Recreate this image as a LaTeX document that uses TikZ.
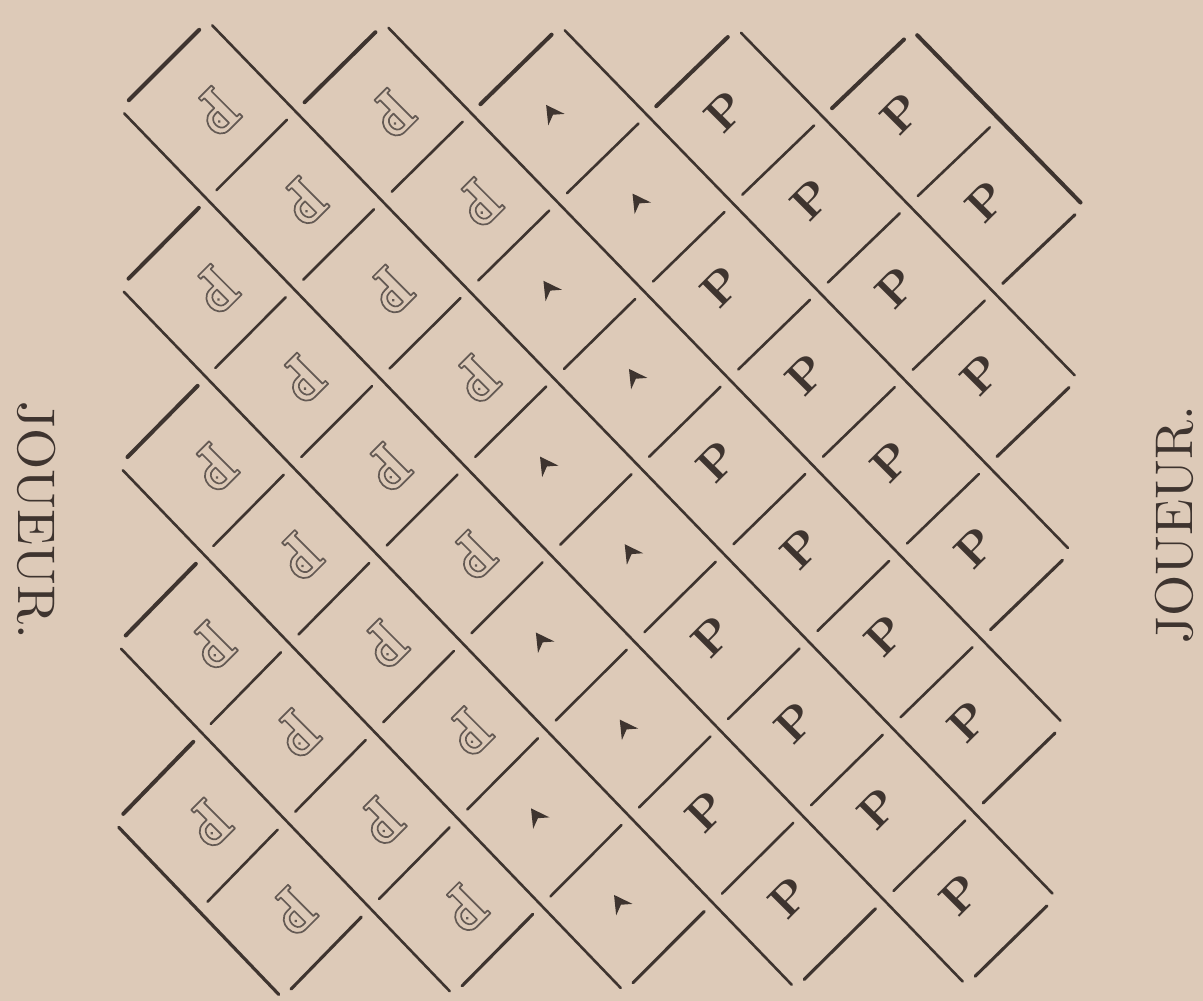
\documentclass[tikz,border=0pt]{standalone}
\usepackage{fontspec}
\newfontfamily\lmten{lmroman10-regular.otf}
\newfontfamily\lmtenbold{lmroman10-bold.otf}
\usetikzlibrary{calc}
\definecolor{paper}{RGB}{221,202,184}
\definecolor{ink}{RGB}{62,52,47}
\definecolor{inkl}{RGB}{100,90,84}
\newcommand\bpx[2]{120.06+87.88*(#1)+0.12*(#2)-0.24*(#1)*(#2)-0.09*((#2)+0.5)*((#2)+0.5)}
\newcommand\bpy[2]{109.07+0.97*(#1)+89.23*(#2)-0.26*(#1)*(#2)}
\newcommand\defpt[3]{\pgfmathsetmacro\tmpx{\bpx{#2}{#3}}\pgfmathsetmacro\tmpy{\bpy{#2}{#3}}\coordinate (#1) at (\tmpx,\tmpy);}
\tikzset{
  longline/.style={draw=ink, line cap=round},
  seg/.style={draw=ink, line cap=round},
  whitepiece/.style={draw=inkl, line width=1.7pt, line join=round},
  blackpiece/.style={text=ink, font=\lmtenbold\fontsize{46}{46}\selectfont, inner sep=0pt},
  arrowmark/.style={fill=ink},
  playerlabel/.style={text=ink, font=\lmten\fontsize{53}{53}\selectfont, inner sep=0pt},
}
\begin{document}
\begin{tikzpicture}[x=1pt,y=-1pt]
\fill[paper] (0,0) rectangle (1203,1001);
\useasboundingbox (0,0) rectangle (1203,1001);
% long diagonal lines between strips
\foreach \nm/\xa/\ya/\xb/\yb/\lw in {
  A/9/-1/11/1/4.0, B/7/-1/11/3/2.6, C/5/-1/11/5/2.6, D/3/-1/11/7/2.6, E/1/-1/11/9/2.6,
  F/0/0/10/10/2.6, G/0/2/8/10/2.6, H/0/4/6/10/2.6, I/0/6/4/10/2.6, J/0/8/2/10/3.2}{
  \defpt{L\nm1}{\xa}{\ya}
  \defpt{L\nm2}{\xb}{\yb}
  \draw[longline, line width=\lw pt, shorten <=6pt, shorten >=5pt] (L\nm1) -- (L\nm2);
}
% caps and cross segments
\foreach \dd in {-7,-5,...,9}{
  \pgfmathtruncatemacro\rmin{max(0,1-\dd)}
  \pgfmathtruncatemacro\rmax{min(9,10-\dd)}
  \pgfmathtruncatemacro\rs{\rmin-1}
  \foreach \rr in {\rs,...,\rmax}{
    \pgfmathsetmacro\xa{\rr+\dd+0.9}\pgfmathsetmacro\ya{\rr+0.1}
    \pgfmathsetmacro\xb{\rr+\dd+0.1}\pgfmathsetmacro\yb{\rr+0.9}
    \defpt{Sa}{\xa}{\ya}\defpt{Sb}{\xb}{\yb}
    \ifnum\rr=\rs \def\lw{4.0}\else\ifnum\rr=\rmax \def\lw{3.1}\else\def\lw{2.6}\fi\fi
    \draw[seg, line width=\lw pt] (Sa) -- (Sb);
  }
}
% pieces
\foreach \rr in {0,...,9}{
  \foreach \cc in {1,...,10}{
    \pgfmathtruncatemacro\parity{mod(\rr+\cc,2)}
    \ifnum\parity=1
      \defpt{cell\rr x\cc}{\cc}{\rr}
      \ifnum\cc<5
        \begin{scope}[shift={($(cell\rr x\cc)+(7,3)$)}, x=1pt, y=1pt, rotate=225]
          \draw[whitepiece] (-17,-22) -- (1,-22) -- (1,-18) -- (-3,-18) -- (-3,-4) -- (2,-4)
            .. controls (18,-4) and (18,22) .. (2,22) -- (-17,22) -- (-17,18) -- (-13,18)
            -- (-13,-18) -- (-17,-18) -- cycle;
          \draw[whitepiece] (-3,1) -- (1,1) .. controls (10,1) and (10,17) .. (1,17) -- (-3,17) -- cycle;
          \fill[inkl] (3,9) circle (1.6);
        \end{scope}
      \else\ifnum\cc<7
        \begin{scope}[shift={($(cell\rr x\cc)+(-7,0)$)}, x=1pt, y=1pt, rotate=35]
          \fill[arrowmark] (0,11) -- (10,-7) -- (0,-1) -- (-10,-7) -- cycle;
        \end{scope}
      \else
        \node[blackpiece, rotate=45] (p\rr x\cc) at ($(cell\rr x\cc)+(-10,-4)$) {P};
      \fi\fi
    \fi
  }
}
% player labels
\node[playerlabel, rotate=-90] (jleft) at (37,520) {JOUEUR.};
\node[playerlabel, rotate=90] (jright) at (1174,525) {JOUEUR.};
\end{tikzpicture}
\end{document}
